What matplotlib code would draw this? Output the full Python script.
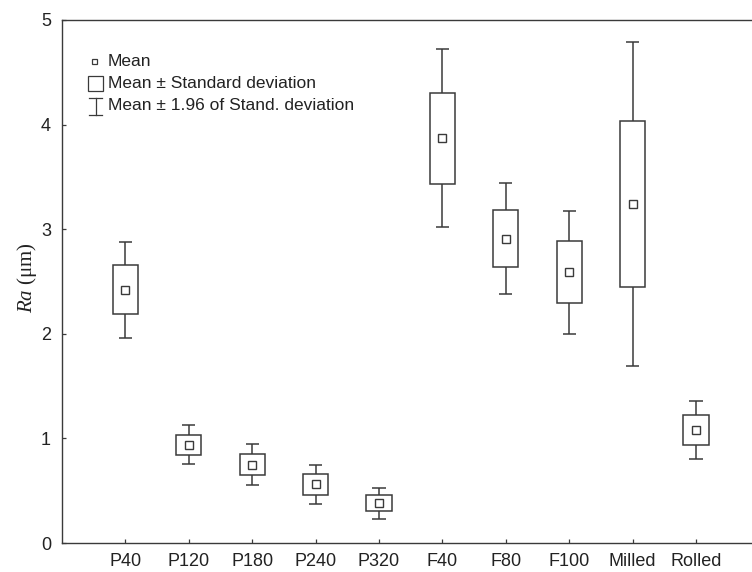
import numpy as np
import matplotlib
matplotlib.use("Agg")
import matplotlib.pyplot as plt
from matplotlib.patches import Rectangle
from matplotlib.lines import Line2D

categories = ["P40", "P120", "P180", "P240", "P320", "F40", "F80", "F100", "Milled", "Rolled"]
means = [2.42, 0.94, 0.75, 0.56, 0.38, 3.87, 2.91, 2.59, 3.24, 1.08]
sds = [0.235, 0.095, 0.10, 0.097, 0.075, 0.435, 0.27, 0.30, 0.79, 0.14]
yticks = [0, 1, 2, 3, 4, 5]

LC = "#3a3a3a"
plt.rcParams["font.family"] = ["Liberation Sans", "DejaVu Sans"]
plt.rcParams["mathtext.fontset"] = "custom"
plt.rcParams["mathtext.it"] = "Liberation Serif:italic"
plt.rcParams["mathtext.rm"] = "Liberation Serif"

W, H = 752, 572
fig = plt.figure(figsize=(W / 100, H / 100), dpi=100)
left_px, right_px, top_px, bot_px = 62, 759.4, 20, 543
ax = fig.add_axes([left_px / W, (H - bot_px) / H, (right_px - left_px) / W, (bot_px - top_px) / H])

x = np.arange(1, len(categories) + 1)
m = np.array(means)
s = np.array(sds)
lo_box = m - s
hi_box = m + s
lo_wh = m - 1.96 * s
hi_wh = m + 1.96 * s

bw = 0.40
cw = 0.21
ax.vlines(x, hi_box, hi_wh, color=LC, lw=1.1, zorder=2)
ax.vlines(x, lo_wh, lo_box, color=LC, lw=1.1, zorder=2)
ax.hlines(hi_wh, x - cw / 2, x + cw / 2, color=LC, lw=1.1, zorder=2)
ax.hlines(lo_wh, x - cw / 2, x + cw / 2, color=LC, lw=1.1, zorder=2)
ax.bar(x, hi_box - lo_box, bottom=lo_box, width=bw, facecolor="white",
       edgecolor=LC, linewidth=1.1, zorder=3)
ax.plot(x, m, ls="none", marker="s", ms=5.6, mfc="white", mec=LC, mew=1.0, zorder=4)

ax.set_xlim(0, 11)
ax.set_ylim(0, 5)
ax.set_xticks(x)
ax.set_xticklabels(categories, fontsize=13)
ax.set_yticks(yticks)
ax.set_yticklabels([str(t) for t in yticks], fontsize=13)
ax.tick_params(direction="in", length=3, width=0.9, color=LC, pad=7, labelcolor="#222222")
ax.tick_params(axis="y", pad=8)
for sp in ["top", "left", "bottom", "right"]:
    ax.spines[sp].set_color(LC)
    ax.spines[sp].set_linewidth(1.0)

fig.text(27 / W, (H - 278) / H, r"$\mathit{Ra}$ (μm)", rotation=90, ha="center", va="center",
         fontsize=15, family=["Liberation Serif", "DejaVu Serif"], color="#222222")

# legend (drawn manually, pixel positions)
def px(xp, yp):
    return (xp / W, (H - yp) / H)

rows = [61.7, 83.5, 106]
texts = ["Mean", "Mean ± Standard deviation", "Mean ± 1.96 of Stand. deviation"]
for yy, t in zip(rows, texts):
    fig.text(*px(108, yy), t, fontsize=12.5, va="center", ha="left", color="#222222")
fig.add_artist(Rectangle(px(92, rows[0] + 2.5), 5 / W, 5 / H, transform=fig.transFigure,
                         facecolor="white", edgecolor=LC, lw=0.9))
fig.add_artist(Rectangle(px(88, rows[1] + 7.5), 15 / W, 15 / H, transform=fig.transFigure,
                         facecolor="white", edgecolor=LC, lw=0.9))
cx = 95.5
yt, yb = rows[2] - 8.5, rows[2] + 8.5
fig.add_artist(Line2D([cx / W, cx / W], [(H - yt) / H, (H - yb) / H], transform=fig.transFigure, color=LC, lw=0.9))
for yy in (yt, yb):
    fig.add_artist(Line2D([(cx - 6.5) / W, (cx + 6.5) / W], [(H - yy) / H] * 2, transform=fig.transFigure, color=LC, lw=0.9))

fig.savefig("out.png", dpi=100, facecolor="white")
